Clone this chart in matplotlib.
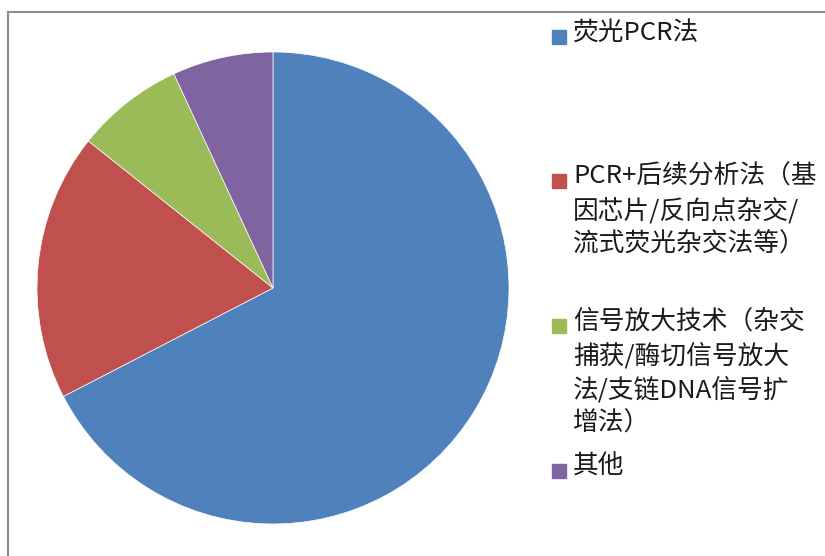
import matplotlib
matplotlib.use('Agg')
import matplotlib.pyplot as plt
from matplotlib.patches import Rectangle
from matplotlib.lines import Line2D

plt.rcParams['font.family'] = ['Noto Sans CJK SC', 'DejaVu Sans']

# 数据
labels = ['荧光PCR法',
          'PCR+后续分析法（基\n因芯片/反向点杂交/\n流式荧光杂交法等）',
          '信号放大技术（杂交\n捕获/酶切信号放大\n法/支链DNA信号扩\n增法）',
          '其他']
values = [67.4, 18.3, 7.4, 6.9]
colors = ['#4F81BD', '#C0504D', '#9BBB59', '#8064A2']

W, H = 825, 556
fig = plt.figure(figsize=(W / 100, H / 100), dpi=100)

# 饼图
ax = fig.add_axes([37 / W, (H - 524) / H, 472 / W, 472 / H])
ax.pie(values, colors=colors, startangle=90, counterclock=False,
       wedgeprops=dict(edgecolor='white', linewidth=0.5))
ax.set_aspect('equal')
ax.set_xlim(-1, 1)
ax.set_ylim(-1, 1)

# 外框（只看到上边和左边）
fig.add_artist(Line2D([8 / W, 1], [1 - 12 / H, 1 - 12 / H], color='#8c8c8c', lw=1.5))
fig.add_artist(Line2D([8 / W, 8 / W], [1 - 12 / H, 0], color='#8c8c8c', lw=1.5))

# 图例
entry_y = [33, 177, 322, 467]
line_h = 34
for lab, col, y0 in zip(labels, colors, entry_y):
    fig.add_artist(Rectangle((552 / W, 1 - (y0 + 11) / H), 14 / W, 14 / H,
                             transform=fig.transFigure, color=col))
    for i, line in enumerate(lab.split('\n')):
        fig.text(573 / W, 1 - (y0 + i * line_h) / H, line, fontsize=18.5,
                 va='center', ha='left', color='#1a1a1a')

fig.savefig('out.png', dpi=100)
